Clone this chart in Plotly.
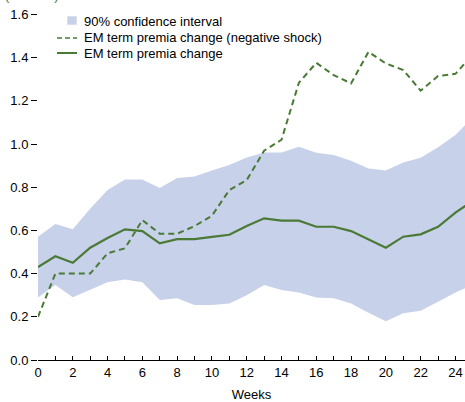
import plotly.graph_objects as go

# Weekly responses (percentage points)
weeks = list(range(0, 26))
em_change = [0.43, 0.48, 0.45, 0.52, 0.565, 0.605, 0.597, 0.54, 0.56, 0.56, 0.57, 0.58, 0.62,
             0.656, 0.645, 0.645, 0.617, 0.617, 0.597, 0.56, 0.52, 0.571, 0.582, 0.617, 0.682, 0.738]
em_change_neg = [0.2, 0.40, 0.40, 0.40, 0.494, 0.517, 0.648, 0.585, 0.585, 0.62, 0.668, 0.787, 0.833,
                 0.969, 1.02, 1.284, 1.376, 1.319, 1.281, 1.427, 1.373, 1.343, 1.247, 1.315, 1.325, 1.415]
ci_upper = [0.571, 0.63, 0.606, 0.70, 0.787, 0.836, 0.836, 0.796, 0.843, 0.85, 0.877, 0.903, 0.938,
            0.961, 0.961, 0.988, 0.96, 0.949, 0.923, 0.887, 0.877, 0.915, 0.937, 0.985, 1.042, 1.124]
ci_lower = [0.289, 0.347, 0.29, 0.324, 0.36, 0.373, 0.36, 0.278, 0.286, 0.255, 0.255, 0.262, 0.30,
            0.347, 0.324, 0.312, 0.289, 0.286, 0.262, 0.219, 0.18, 0.216, 0.228, 0.27, 0.312, 0.348]

x_ticks = list(range(0, 25))
x_labels = [str(w) if w % 2 == 0 else "" for w in x_ticks]
y_ticks = [0.0, 0.2, 0.4, 0.6, 0.8, 1.0, 1.2, 1.4, 1.6]
y_labels = ["0.0", "0.2", "0.4", "0.6", "0.8", "1.0", "1.2", "1.4", "1.6"]

legend_labels = ["90% confidence interval", "EM term premia change (negative shock)",
                 "EM term premia change"]

FONT = "Liberation Sans, Arial, sans-serif"
GREEN = "#4a7a36"
BAND = "#c7d1e9"

W, H = 465, 402
ML, MB = 38, 42
PW, PH = W - ML, H - MB


def px(x):  # pixel -> paper x
    return (x - ML) / PW


def py(y):  # pixel -> paper y
    return 1 - y / PH


fig = go.Figure()

# confidence band
fig.add_trace(go.Scatter(x=weeks, y=ci_lower, mode="lines", line=dict(width=0),
                         hoverinfo="skip"))
fig.add_trace(go.Scatter(x=weeks, y=ci_upper, mode="lines", line=dict(width=0),
                         fill="tonexty", fillcolor=BAND, hoverinfo="skip"))

fig.add_trace(go.Scatter(x=weeks, y=em_change_neg, mode="lines", name=legend_labels[1],
                         line=dict(color=GREEN, width=2, dash="6px,4px")))
fig.add_trace(go.Scatter(x=weeks, y=em_change, mode="lines", name=legend_labels[2],
                         line=dict(color=GREEN, width=2.2)))

# hand-placed legend (tighter rows than plotly's own legend allows)
fig.add_shape(type="rect", xref="paper", yref="paper", x0=px(67.3), x1=px(76.7),
              y0=py(24.7), y1=py(16.3), fillcolor=BAND, line=dict(width=0))
fig.add_shape(type="line", xref="paper", yref="paper", x0=px(57), x1=px(77),
              y0=py(38), y1=py(38), line=dict(color=GREEN, width=1.5, dash="5px,3px"))
fig.add_shape(type="line", xref="paper", yref="paper", x0=px(57), x1=px(77),
              y0=py(53), y1=py(53), line=dict(color=GREEN, width=2))
for label, row in zip(legend_labels, [21, 37.5, 53]):
    fig.add_annotation(text=label, xref="paper", yref="paper", x=px(81.5), y=py(row),
                       xanchor="left", yanchor="middle", showarrow=False,
                       font=dict(family=FONT, size=13, color="black"))

fig.add_annotation(text="(Percent)", xref="paper", yref="paper", x=px(3), y=1,
                   xanchor="left", yanchor="bottom", yshift=-5, showarrow=False,
                   font=dict(family=FONT, size=13, color=GREEN))

fig.update_layout(
    width=W, height=H,
    margin=dict(l=ML, r=0, t=0, b=MB),
    plot_bgcolor="white", paper_bgcolor="white",
    font=dict(family=FONT, size=13, color="black"),
    showlegend=False,
    xaxis=dict(range=[0, 24.55], tickvals=x_ticks, ticktext=x_labels,
               ticks="inside", ticklen=4, tickcolor="black", showline=True,
               linecolor="black", linewidth=1, showgrid=False, zeroline=False,
               automargin=False, title=dict(text="Weeks", font=dict(size=13))),
    yaxis=dict(range=[0, 1.667], tickvals=y_ticks, ticktext=y_labels,
               ticks="outside", ticklen=6, tickcolor="black", showline=False,
               showgrid=False, zeroline=False, automargin=False),
)

fig.write_html("out.html", config={"displayModeBar": False},
               post_script="document.body.style.margin='0';")
